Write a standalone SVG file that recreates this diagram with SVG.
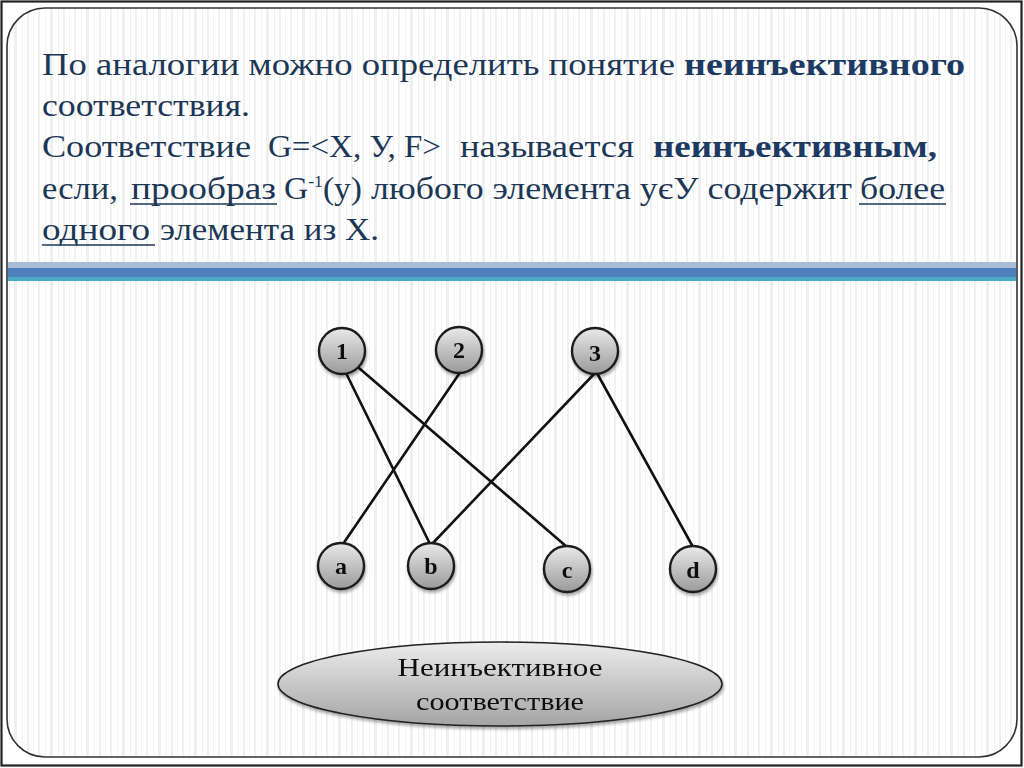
<svg xmlns="http://www.w3.org/2000/svg" width="1024" height="768" viewBox="0 0 1024 768">
<style>
.t{font-family:"Liberation Serif","DejaVu Serif",serif;font-size:32px;fill:#1c3756}
.b{font-weight:bold;fill:#1d3a62}
.u{stroke:#1c3756;stroke-width:1.6}
.edge{stroke:#111;stroke-width:2.6;fill:none;stroke-linecap:round}
.node circle{fill:url(#ng);stroke:#1a1a1a;stroke-width:2.4}
.node text{font-family:"Liberation Serif","DejaVu Serif",serif;font-weight:bold;font-size:24px;fill:#111;text-anchor:middle}
.lbl{font-family:"Liberation Serif","DejaVu Serif",serif;font-size:26px;fill:#111;text-anchor:middle}
</style>
<defs>
<pattern id="stripes" width="36" height="10" patternUnits="userSpaceOnUse">
<rect width="36" height="10" fill="#ffffff"/>
<rect x="2" width="2" height="10" fill="#f1f1f1"/>
<rect x="9" width="1" height="10" fill="#f4f4f4"/>
<rect x="14" width="3" height="10" fill="#efefef"/>
<rect x="22" width="1" height="10" fill="#f3f3f3"/>
<rect x="27" width="2" height="10" fill="#f0f0f0"/>
<rect x="33" width="1" height="10" fill="#f5f5f5"/>
</pattern>
<linearGradient id="ng" x1="0" y1="0" x2="0" y2="1">
<stop offset="0" stop-color="#e9e9e9"/>
<stop offset="1" stop-color="#9a9a9a"/>
</linearGradient>
<linearGradient id="eg" x1="0" y1="0" x2="0" y2="1">
<stop offset="0" stop-color="#ececec"/>
<stop offset="1" stop-color="#a4a4a4"/>
</linearGradient>
<filter id="sh" x="-20%" y="-20%" width="140%" height="150%">
<feDropShadow dx="1" dy="2.5" stdDeviation="1.8" flood-color="#000" flood-opacity="0.35"/>
</filter>
</defs>
<rect x="0" y="0" width="1024" height="768" fill="#ffffff"/>
<rect x="1.5" y="1.5" width="1020" height="764" fill="none" stroke="#222" stroke-width="2.2"/>
<rect x="7" y="8" width="1010" height="749" rx="38" ry="38" fill="url(#stripes)" stroke="#333" stroke-width="1.6"/>
<g id="band">
<rect x="8" y="262" width="1008" height="6" fill="#a9bcd6"/>
<rect x="8" y="268" width="1008" height="9" fill="#4f7fbc"/>
<rect x="8" y="277" width="1008" height="4" fill="#4aaac6"/>
</g>
<g id="heading">
<text class="t" x="42" y="75" textLength="633" lengthAdjust="spacingAndGlyphs">По аналогии можно определить понятие</text>
<text class="t b" x="684" y="75" textLength="281" lengthAdjust="spacingAndGlyphs">неинъективного</text>
<text class="t" x="42" y="116" textLength="208" lengthAdjust="spacingAndGlyphs">соответствия.</text>
<text class="t" x="42" y="157" textLength="209" lengthAdjust="spacingAndGlyphs">Соответствие</text>
<text class="t" x="268" y="157" textLength="173" lengthAdjust="spacingAndGlyphs">G=&lt;X, У, F&gt;</text>
<text class="t" x="460" y="157" textLength="174" lengthAdjust="spacingAndGlyphs">называется</text>
<text class="t b" x="653" y="157" textLength="284" lengthAdjust="spacingAndGlyphs">неинъективным,</text>
<text class="t" x="42" y="199" textLength="76" lengthAdjust="spacingAndGlyphs">если,</text>
<text class="t" x="131" y="199" textLength="145" lengthAdjust="spacingAndGlyphs">прообраз</text>
<line class="u" x1="130" y1="204" x2="277" y2="204"/>
<text class="t" x="284" y="199" textLength="78" lengthAdjust="spacingAndGlyphs">G<tspan dy="-12" font-size="17">-1</tspan><tspan dy="12">(y)</tspan></text>
<text class="t" x="371" y="199" textLength="481" lengthAdjust="spacingAndGlyphs">любого элемента yєУ содержит</text>
<text class="t" x="860" y="199" textLength="85" lengthAdjust="spacingAndGlyphs">более</text>
<line class="u" x1="859" y1="204" x2="946" y2="204"/>
<text class="t" x="42" y="240" textLength="108" lengthAdjust="spacingAndGlyphs">одного</text>
<line class="u" x1="42" y1="245" x2="155" y2="245"/>
<text class="t" x="160" y="240" textLength="219" lengthAdjust="spacingAndGlyphs">элемента из X.</text>
</g>
<g id="connectors">
<line class="edge" x1="346" y1="373" x2="430" y2="544"/>
<line class="edge" x1="359" y1="368" x2="567" y2="547"/>
<line class="edge" x1="459" y1="374" x2="343" y2="544"/>
<line class="edge" x1="595" y1="373" x2="432" y2="544"/>
<line class="edge" x1="598" y1="375" x2="693" y2="547"/>
</g>
<g id="node-1" class="node" filter="url(#sh)"><circle cx="342" cy="351" r="23"/><text x="342" y="359">1</text></g>
<g id="node-2" class="node" filter="url(#sh)"><circle cx="459" cy="350" r="23"/><text x="459" y="358">2</text></g>
<g id="node-3" class="node" filter="url(#sh)"><circle cx="595" cy="351" r="23"/><text x="595" y="361">3</text></g>
<g id="node-a" class="node" filter="url(#sh)"><circle cx="341" cy="566" r="23"/><text x="341" y="574">a</text></g>
<g id="node-b" class="node" filter="url(#sh)"><circle cx="431" cy="566" r="23"/><text x="431" y="574">b</text></g>
<g id="node-c" class="node" filter="url(#sh)"><circle cx="567" cy="569" r="23"/><text x="567" y="578">c</text></g>
<g id="node-d" class="node" filter="url(#sh)"><circle cx="693" cy="569" r="23"/><text x="693" y="578">d</text></g>
<g id="caption" filter="url(#sh)">
<ellipse cx="500" cy="684" rx="222" ry="42" fill="url(#eg)" stroke="#222" stroke-width="1.6"/>
<text class="lbl" x="500" y="676" textLength="205" lengthAdjust="spacingAndGlyphs">Неинъективное</text>
<text class="lbl" x="500" y="710" textLength="168" lengthAdjust="spacingAndGlyphs">соответствие</text>
</g>
</svg>
